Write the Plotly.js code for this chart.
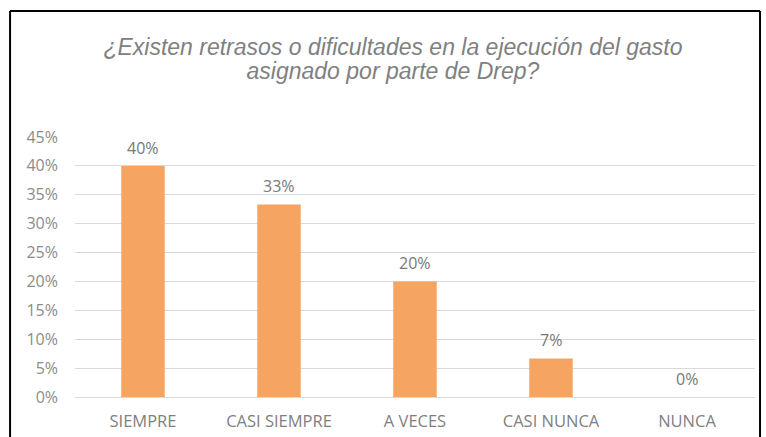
<!DOCTYPE html>
<html>
<head>
<meta charset="utf-8">
<script src="https://cdn.plot.ly/plotly-3.0.1.min.js"></script>
<style>html,body{margin:0;padding:0;background:#fff;}#chart{width:766px;height:437px;}</style>
</head>
<body>
<div id="chart"></div>
<script>
const categories = ["SIEMPRE", "CASI SIEMPRE", "A VECES", "CASI NUNCA", "NUNCA"];
const values = [0.40, 0.3333, 0.20, 0.0667, 0.0];
const yTickVals = [0, 0.05, 0.10, 0.15, 0.20, 0.25, 0.30, 0.35, 0.40, 0.45];
const yTickText = ["0%", "5%", "10%", "15%", "20%", "25%", "30%", "35%", "40%", "45%"];
const titleLines = ["¿Existen retrasos o dificultades en la ejecución del gasto", "asignado por parte de Drep?"];

const labelFont = {family: "'Open Sans', sans-serif", size: 16, color: "#787878"};

const trace = {
  type: "bar",
  x: categories,
  y: values,
  marker: {color: "#F5A462"},
  hoverinfo: "none"
};

const annotations = categories.map((c, i) => ({
  x: c, y: values[i], xref: "x", yref: "y",
  text: Math.round(values[i] * 100) + "%",
  showarrow: false, yanchor: "bottom", xanchor: "center",
  yshift: 5,
  font: labelFont
}));

const layout = {
  width: 766, height: 437,
  margin: {l: 75, r: 11, t: 137, b: 40},
  paper_bgcolor: "#ffffff",
  plot_bgcolor: "#ffffff",
  bargap: 0.68,
  showlegend: false,
  title: {
    text: titleLines.map(t => '<span style="font-size:23px">' + t + '</span>').join("<br>"),
    font: {family: "'Liberation Sans', Arial, sans-serif", size: 19, color: "#808080", style: "italic"},
    x: 0.513, xanchor: "center",
    y: 0.875, yanchor: "middle"
  },
  xaxis: {
    type: "category",
    showgrid: false,
    showline: false,
    ticks: "",
    ticklabelstandoff: 12,
    tickfont: {family: "'Open Sans', sans-serif", size: 16.5, color: "#7F7F7F"},
    fixedrange: true
  },
  yaxis: {
    range: [0, 0.45],
    tickvals: yTickVals,
    ticktext: yTickText,
    showgrid: true,
    gridcolor: "#D9D9D9",
    gridwidth: 1,
    zeroline: true,
    zerolinecolor: "#D9D9D9",
    zerolinewidth: 1,
    showline: false,
    ticks: "",
    ticklabelstandoff: 16,
    tickfont: {family: "'Open Sans', sans-serif", size: 16, color: "#8C8C8C"},
    fixedrange: true
  },
  annotations: annotations,
  shapes: [
    {type: "line", xref: "paper", yref: "paper", x0: -0.0955, x1: -0.0955, y0: 1.485, y1: -0.3, line: {color: "#000", width: 2}},
    {type: "line", xref: "paper", yref: "paper", x0: -0.0955, x1: 1.0074, y0: 1.485, y1: 1.485, line: {color: "#000", width: 2}},
    {type: "line", xref: "paper", yref: "paper", x0: 1.0074, x1: 1.0074, y0: 1.485, y1: -0.3, line: {color: "#000", width: 2}}
  ]
};

Plotly.newPlot("chart", [trace], layout, {displayModeBar: false, staticPlot: true});
</script>
</body>
</html>
